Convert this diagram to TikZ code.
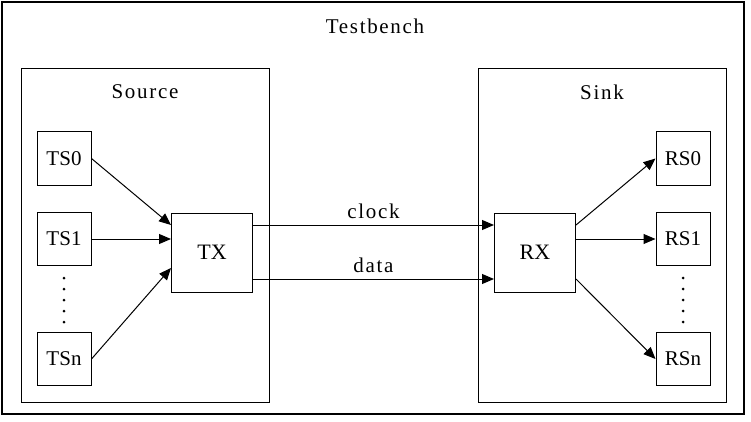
\documentclass[tikz,border=0pt]{standalone}
\usepackage{fontspec}
\setmainfont{Liberation Serif}
\newfontfamily\lblfont[LetterSpace=8]{Liberation Serif}
\usetikzlibrary{arrows.meta}
\tikzset{
  blk/.style={draw, line width=1pt, minimum width=54pt, minimum height=53pt, inner sep=0pt, font=\fontsize{21}{23}\selectfont},
  big/.style={draw, line width=1pt, minimum width=81pt, minimum height=79pt, inner sep=0pt, font=\fontsize{22}{24}\selectfont},
  frame/.style={draw, line width=1pt},
  lbl/.style={font=\lblfont\fontsize{21}{23}\selectfont, inner sep=0pt},
  arr/.style={line width=1pt, -{Triangle[length=12pt,width=10pt]}},
  dot/.style={circle, fill, inner sep=0pt, minimum size=3pt}
}
\begin{document}
\begin{tikzpicture}[x=1pt,y=-1pt]
\useasboundingbox (0,0) rectangle (751,422);
\draw[line width=1.6pt] (2,2) rectangle (744,414);
\node[lbl] (tb) at (375,26) {Testbench};
\draw[frame] (21,69) rectangle (269,402);
\node[lbl] (src) at (145,92) {Source};
\draw[frame] (478,69) rectangle (726,402);
\node[lbl] (snk) at (602,92) {Sink};

\node[blk] (TS0) at (64,158.5) {TS0};
\node[blk] (TS1) at (64,239) {TS1};
\node[blk] (TSn) at (64,359) {TSn};
\node[big] (TX) at (212,252.5) {TX};
\node[big] (RX) at (535,252.5) {RX};
\node[blk] (RS0) at (683,158.5) {RS0};
\node[blk] (RS1) at (683,239) {RS1};
\node[blk] (RSn) at (683,359) {RSn};

\foreach \i in {0,...,4} {
  \node[dot] (ld\i) at (64,278+11*\i) {};
  \node[dot] (rd\i) at (683,278+11*\i) {};
}

\draw[arr] (TS0.east) -- ([yshift=27.5pt]TX.west);
\draw[arr] (TS1.east) -- ([yshift=13.5pt]TX.west);
\draw[arr] (TSn.east) -- ([yshift=-15.5pt]TX.west);

\draw[arr] ([yshift=27.5pt]TX.east) -- node[lbl, above=6pt] (clk) {clock} ([yshift=27.5pt]RX.west);
\draw[arr] ([yshift=-26.5pt]TX.east) -- node[lbl, above=6pt] (dat) {data} ([yshift=-26.5pt]RX.west);

\draw[arr] ([yshift=27.5pt]RX.east) -- (RS0.west);
\draw[arr] ([yshift=13.5pt]RX.east) -- (RS1.west);
\draw[arr] ([yshift=-26.5pt]RX.east) -- (RSn.west);
\end{tikzpicture}
\end{document}
